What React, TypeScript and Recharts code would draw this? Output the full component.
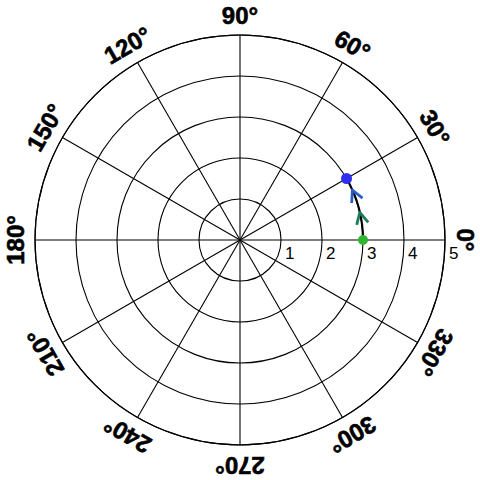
import React from 'react';
import { RadarChart, Radar, PolarGrid, PolarAngleAxis, PolarRadiusAxis } from 'recharts';

// polar ticks
const angleTicks = [0, 30, 60, 90, 120, 150, 180, 210, 240, 270, 300, 330];
const radiusTicks = [1, 2, 3, 4, 5];

// trajectory (degrees, radius)
const pathTheta = [0, 30];
const pathR = [3, 3];

// direction arrows along the trajectory
const arrowTheta = [13, 24];
const arrowR = [3, 3];
const arrowColors = ['#1d7a5c', '#2a5ec6'];

const dotColors = ['#2fb52f', '#2f2ff2'];

const chartData = [
    ...pathTheta.map((t, i) => ({ theta: t, r: pathR[i] })),
    ...arrowTheta.map((t, i) => ({ theta: t, arrow: arrowR[i] })),
];

const FONT = '"Liberation Sans", Arial, sans-serif';

const validPoints = (points: any[]) =>
    (points || []).filter(
        (p) => p && p.value !== undefined && p.value !== null && Number.isFinite(p.x) && Number.isFinite(p.y)
    );

const ArcPath = (props: any) => {
    const pts = validPoints(props.points);
    if (pts.length < 2) return null;
    let d = `M${pts[0].x},${pts[0].y}`;
    for (let i = 1; i < pts.length; i++) {
        const r = (pts[i - 1].radius + pts[i].radius) / 2;
        const sweep = pts[i].angle > pts[i - 1].angle ? 0 : 1;
        d += ` A${r},${r} 0 0 ${sweep} ${pts[i].x},${pts[i].y}`;
    }
    return <path d={d} fill="none" stroke="#000" strokeWidth={2.2} />;
};

const Arrows = (props: any) => {
    const pts = validPoints(props.points);
    const len = 13;
    const spread = (27 * Math.PI) / 180;
    return (
        <g>
            {pts.map((p, i) => {
                const a = (p.angle * Math.PI) / 180;
                // backwards along the counter-clockwise tangent, screen coords
                const bx = Math.sin(a);
                const by = Math.cos(a);
                const arm = (s: number) => {
                    const c = Math.cos(s), sn = Math.sin(s);
                    return [p.x + len * (bx * c - by * sn), p.y + len * (bx * sn + by * c)];
                };
                const [x1, y1] = arm(spread);
                const [x2, y2] = arm(-spread);
                return (
                    <path
                        key={i}
                        d={`M${x1},${y1} L${p.x},${p.y} L${x2},${y2}`}
                        fill="none"
                        stroke={arrowColors[i % arrowColors.length]}
                        strokeWidth={2.8}
                        strokeLinejoin="round"
                    />
                );
            })}
        </g>
    );
};

const PathDot = (props: any) => {
    const { cx, cy, index, value } = props;
    if (value === undefined || value === null || !Number.isFinite(cx) || index >= pathTheta.length) return null;
    return <circle cx={cx} cy={cy} r={index === 0 ? 5 : 5.5} fill={dotColors[index === 0 ? 0 : 1]} stroke="none" />;
};

const AngleTick = (props: any) => {
    const { x, y, payload } = props;
    const rot = 90 - payload.value;
    return (
        <text
            x={x}
            y={y}
            textAnchor="middle"
            dominantBaseline="central"
            transform={`rotate(${rot}, ${x}, ${y})`}
            fontFamily={FONT}
            fontWeight="bold"
            fontSize={24}
            fill="#000"
            stroke="#000"
            strokeWidth={0.6}
        >
            {`${payload.value}°`}
        </text>
    );
};

const RadiusTick = (props: any) => {
    const { x, y, payload } = props;
    return (
        <text x={x + 4} y={y + 19} textAnchor="start" fontFamily={FONT} fontSize={17} fill="#000">
            {payload.value}
        </text>
    );
};

const App: React.FC = () => {
    return (
        <div style={{ position: 'absolute', left: 0, top: 0, width: 480, height: 480, background: '#fff' }}>
            <RadarChart
                width={480}
                height={480}
                data={chartData}
                cx={240}
                cy={240}
                outerRadius={205}
                startAngle={0}
                endAngle={360}
                margin={{ top: 0, right: 0, bottom: 0, left: 0 }}
            >
                <PolarGrid gridType="circle" stroke="#000" strokeWidth={1.1} />
                <PolarAngleAxis
                    dataKey="theta"
                    type="number"
                    domain={[0, 360]}
                    ticks={angleTicks}
                    tickSize={20}
                    tickLine={false}
                    axisLineType="circle"
                    axisLine={{ stroke: '#000', strokeWidth: 1.1 }}
                    tick={<AngleTick />}
                />
                <PolarRadiusAxis
                    angle={0}
                    type="number"
                    domain={[0, 5]}
                    ticks={radiusTicks}
                    axisLine={false}
                    tickLine={false}
                    tick={<RadiusTick />}
                />
                <Radar
                    dataKey="r"
                    stroke="#000"
                    fill="none"
                    shape={<ArcPath />}
                    dot={<PathDot />}
                    isAnimationActive={false}
                />
                <Radar dataKey="arrow" stroke="none" fill="none" shape={<Arrows />} dot={false} isAnimationActive={false} />
            </RadarChart>
        </div>
    );
};

export default App;
